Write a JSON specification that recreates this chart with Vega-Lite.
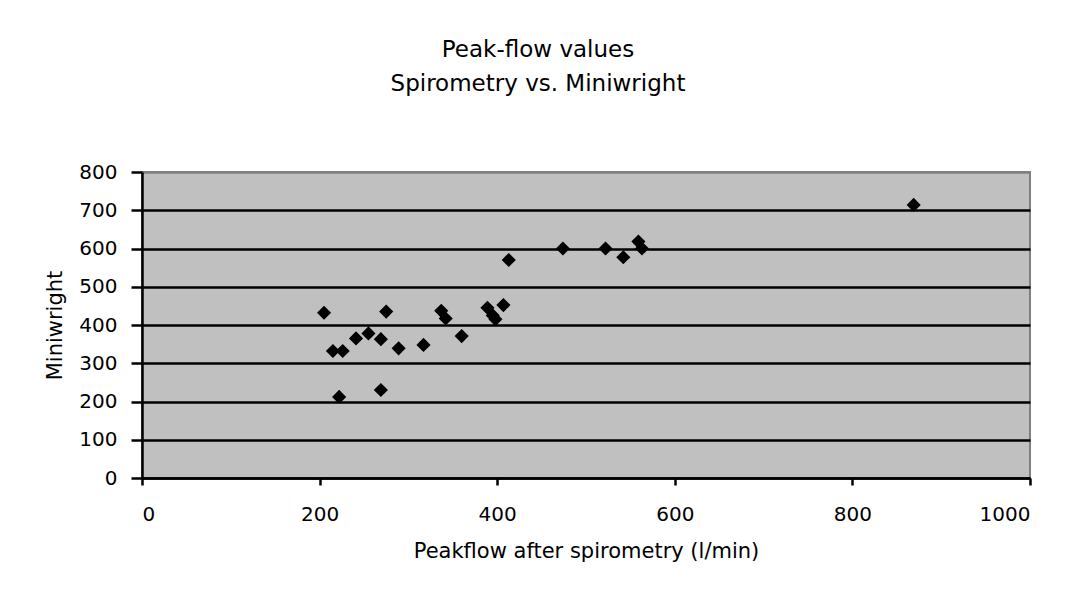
{
  "$schema": "https://vega.github.io/schema/vega-lite/v6.json",
  "width": 888,
  "height": 306,
  "autosize": {"type": "none"},
  "padding": {"left": 142, "top": 172, "right": 36, "bottom": 114},
  "background": "white",
  "title": {
    "text": ["Peak-flow values", "Spirometry vs. Miniwright"],
    "anchor": "middle",
    "frame": "group",
    "dx": -48,
    "offset": 66,
    "fontSize": 23,
    "lineHeight": 34,
    "font": "DejaVu Sans",
    "fontWeight": "normal",
    "color": "black"
  },
  "data": {
    "values": [
      {"spiro": 205, "mini": 432},
      {"spiro": 215, "mini": 332},
      {"spiro": 226, "mini": 332},
      {"spiro": 222, "mini": 212},
      {"spiro": 241, "mini": 365},
      {"spiro": 255, "mini": 378},
      {"spiro": 269, "mini": 363},
      {"spiro": 269, "mini": 230},
      {"spiro": 275, "mini": 435},
      {"spiro": 289, "mini": 339},
      {"spiro": 317, "mini": 348},
      {"spiro": 337, "mini": 437},
      {"spiro": 342, "mini": 417},
      {"spiro": 360, "mini": 371},
      {"spiro": 389, "mini": 445},
      {"spiro": 395, "mini": 425},
      {"spiro": 398, "mini": 415},
      {"spiro": 407, "mini": 452},
      {"spiro": 413, "mini": 570},
      {"spiro": 474, "mini": 600},
      {"spiro": 522, "mini": 600},
      {"spiro": 542, "mini": 577},
      {"spiro": 559, "mini": 618},
      {"spiro": 563, "mini": 600},
      {"spiro": 869, "mini": 714}
    ]
  },
  "mark": {"type": "point", "shape": "diamond", "filled": true, "color": "black", "size": 200, "opacity": 1},
  "encoding": {
    "x": {
      "field": "spiro",
      "type": "quantitative",
      "scale": {"domain": [0, 1000], "nice": false},
      "axis": {
        "values": [0, 200, 400, 600, 800, 1000],
        "format": "d",
        "title": "Peakflow after spirometry (l/min)",
        "grid": false,
        "domainColor": "black",
        "domainWidth": 2.5,
        "tickColor": "black",
        "tickWidth": 2.5,
        "tickSize": 7,
        "labelFontSize": 20,
        "labelFont": "DejaVu Sans",
        "labelColor": "black",
        "labelPadding": 19,
        "titleFont": "DejaVu Sans",
        "titleFontSize": 21,
        "titleFontWeight": "normal",
        "titleColor": "black",
        "titlePadding": 16
      }
    },
    "y": {
      "field": "mini",
      "type": "quantitative",
      "scale": {"domain": [0, 800], "nice": false},
      "axis": {
        "values": [0, 100, 200, 300, 400, 500, 600, 700, 800],
        "format": "d",
        "title": "Miniwright",
        "grid": true,
        "gridColor": {"condition": {"test": "datum.value == 800", "value": "#808080"}, "value": "black"},
        "gridWidth": 2.5,
        "gridOpacity": 1,
        "domainColor": "black",
        "domainWidth": 2.5,
        "tickColor": "black",
        "tickWidth": 2.5,
        "tickSize": 11,
        "labelFontSize": 20,
        "labelFont": "DejaVu Sans",
        "labelColor": "black",
        "labelPadding": 14,
        "titleFont": "DejaVu Sans",
        "titleFontSize": 21,
        "titleFontWeight": "normal",
        "titleColor": "black",
        "titlePadding": 13
      }
    }
  },
  "config": {
    "view": {"fill": "#c0c0c0", "stroke": "#808080", "strokeWidth": 2}
  }
}
